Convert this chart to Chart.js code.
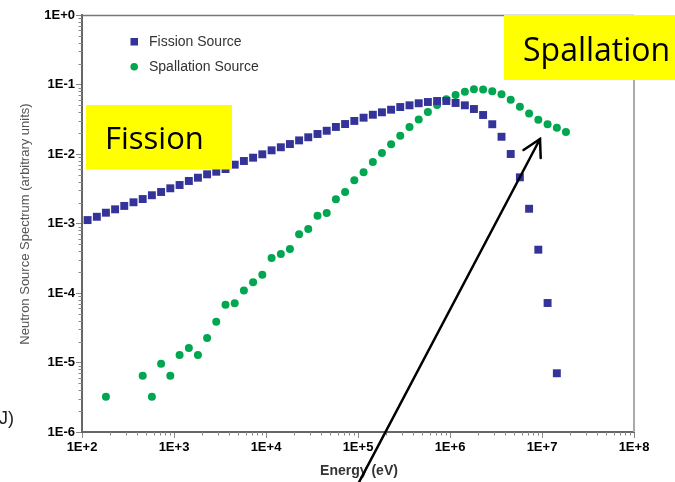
<!DOCTYPE html>
<html><head><meta charset="utf-8">
<script src="https://cdn.jsdelivr.net/npm/chart.js@4.4.1/dist/chart.umd.min.js"></script>
<style>html,body{margin:0;padding:0;background:#fff;overflow:hidden}#wrap{width:675px;height:482px;position:relative}</style>
</head><body><div id="wrap"><canvas id="c" width="675" height="482"></canvas></div>
<script>
// Energy grid (eV)
const energy = [115,145,182,229,288,363,457,575,724,912,
  1150,1450,1820,2290,2880,3630,4570,5750,7240,9120,
  11500,14500,18200,22900,28800,36300,45700,57500,72400,91200,
  115000,145000,182000,229000,288000,363000,457000,575000,724000,912000,
  1.15e6,1.45e6,1.82e6,2.29e6,2.88e6,3.63e6,4.57e6,5.75e6,7.24e6,9.12e6,
  1.15e7,1.45e7,1.82e7];
// Fission source spectrum
const fission = [1.12e-3,1.25e-3,1.43e-3,1.60e-3,1.79e-3,2.02e-3,2.25e-3,2.55e-3,2.84e-3,3.21e-3,
  3.58e-3,4.09e-3,4.56e-3,5.10e-3,5.56e-3,6.08e-3,7.02e-3,7.93e-3,8.85e-3,9.90e-3,
  1.13e-2,1.25e-2,1.39e-2,1.57e-2,1.74e-2,1.94e-2,2.16e-2,2.45e-2,2.70e-2,2.99e-2,
  3.33e-2,3.67e-2,3.98e-2,4.34e-2,4.74e-2,5.02e-2,5.37e-2,5.60e-2,5.79e-2,5.79e-2,
  5.42e-2,5.02e-2,4.44e-2,3.64e-2,2.68e-2,1.77e-2,1.00e-2,4.62e-3,1.63e-3,4.20e-4,
  7.18e-5,7.00e-6];
// Spallation source spectrum
const spallation = [null,null,3.22e-6,null,null,null,6.45e-6,3.22e-6,9.6e-6,6.45e-6,
  1.28e-5,1.62e-5,1.28e-5,2.25e-5,3.87e-5,6.79e-5,7.11e-5,1.09e-4,1.43e-4,1.83e-4,
  3.19e-4,3.63e-4,4.30e-4,7.02e-4,8.34e-4,1.29e-3,1.42e-3,2.23e-3,2.84e-3,4.20e-3,
  5.46e-3,7.67e-3,1.03e-2,1.38e-2,1.83e-2,2.45e-2,3.14e-2,4.02e-2,5.07e-2,6.12e-2,
  7.06e-2,7.88e-2,8.53e-2,8.45e-2,7.98e-2,7.25e-2,6.02e-2,4.80e-2,3.83e-2,3.10e-2,
  2.68e-2,2.39e-2,2.07e-2];
const xTicks = [1e2,1e3,1e4,1e5,1e6,1e7,1e8];
const yTicks = [1e-6,1e-5,1e-4,1e-3,1e-2,1e-1,1e0];
const seriesNames = ['Fission Source','Spallation Source'];
const xTitle = 'Energy (eV)';
const yTitle = 'Neutron Source Spectrum (arbitrary units)';

const BLUE = '#333399', GREEN = '#00A650';
function fmtE(v){const e=Math.round(Math.log10(v));return '1E'+(e>=0?'+':'-')+Math.abs(e);}
function pts(arr){const o=[];arr.forEach((y,i)=>{if(y!==null&&i<energy.length)o.push({x:energy[i],y:y});});return o;}

const decor = {
  id:'decor',
  beforeDatasetsDraw(chart){
    const ctx=chart.ctx, a=chart.chartArea, xs=chart.scales.x, ys=chart.scales.y;
    ctx.save();
    // frame top & right
    ctx.strokeStyle='#777'; ctx.lineWidth=1.5;
    ctx.beginPath(); ctx.moveTo(a.left,a.top+0.5); ctx.lineTo(a.right,a.top+0.5); ctx.stroke();
    ctx.strokeStyle='#aaa'; ctx.lineWidth=2;
    ctx.beginPath(); ctx.moveTo(a.right,a.top); ctx.lineTo(a.right,a.bottom); ctx.stroke();
    // minor ticks
    ctx.strokeStyle='#888'; ctx.lineWidth=1;
    for(let d=2; d<8; d++){ for(let m=2;m<10;m++){
      const px=Math.round(xs.getPixelForValue(m*Math.pow(10,d)))+0.5;
      ctx.beginPath(); ctx.moveTo(px,a.bottom); ctx.lineTo(px,a.bottom+3.5); ctx.stroke();
    }}
    for(let d=-6; d<0; d++){ for(let m=2;m<10;m++){
      const py=Math.round(ys.getPixelForValue(m*Math.pow(10,d)))+0.5;
      ctx.beginPath(); ctx.moveTo(a.left,py); ctx.lineTo(a.left-3.5,py); ctx.stroke();
    }}
    ctx.restore();
  },
  afterDraw(chart){
    const ctx=chart.ctx, a=chart.chartArea;
    ctx.save();
    // axis titles
    ctx.fillStyle='#555'; ctx.font='13px "Liberation Sans", Arial, sans-serif';
    ctx.textAlign='center'; ctx.textBaseline='middle';
    ctx.save(); ctx.translate(25,224); ctx.rotate(-Math.PI/2); ctx.fillText(yTitle,0,0); ctx.restore();
    ctx.fillStyle='#333'; ctx.font='bold 14px "Liberation Sans", Arial, sans-serif';
    ctx.fillText(xTitle,(a.left+a.right)/2+1,471);
    // legend
    ctx.textAlign='left'; ctx.font='14px "Liberation Sans", Arial, sans-serif'; ctx.fillStyle='#333';
    ctx.fillStyle=BLUE; ctx.fillRect(130.5,38,7.5,7.5);
    ctx.fillStyle=GREEN; ctx.beginPath(); ctx.arc(134.2,66.7,3.8,0,Math.PI*2); ctx.fill();
    ctx.fillStyle='#333';
    ctx.fillText(seriesNames[0],149,42);
    ctx.fillText(seriesNames[1],149,67);
    // yellow boxes
    ctx.fillStyle='#FFFF00';
    ctx.fillRect(86,105,146,64.5);
    ctx.fillRect(504,15,171,65);
    ctx.fillStyle='#000'; ctx.textBaseline='alphabetic';
    ctx.font='31px "Open Sans", "Noto Sans", sans-serif';
    ctx.fillText('Fission',105,149);
    ctx.font='32px "Open Sans", "Noto Sans", sans-serif';
    ctx.fillText('Spallation',523,61);
    // arrow
    ctx.strokeStyle='#000'; ctx.lineWidth=2.5; ctx.lineCap='round';
    ctx.beginPath(); ctx.moveTo(357,486); ctx.lineTo(540,139); ctx.stroke();
    ctx.beginPath(); ctx.moveTo(523.5,150); ctx.lineTo(540,139); ctx.lineTo(540.7,158); ctx.stroke();
    // cut-off text at left
    ctx.font='18px "Liberation Sans", Arial, sans-serif'; ctx.fillStyle='#222';
    ctx.fillText('J)',-1,424);
    ctx.restore();
  }
};

new Chart(document.getElementById('c'),{
  type:'scatter',
  data:{datasets:[
    {label:seriesNames[0],data:pts(fission),pointStyle:'rect',pointRadius:5.6,pointHoverRadius:5.6,
     backgroundColor:BLUE,borderColor:BLUE,borderWidth:0},
    {label:seriesNames[1],data:pts(spallation),pointStyle:'circle',pointRadius:4,pointHoverRadius:4,
     backgroundColor:GREEN,borderColor:GREEN,borderWidth:0}
  ]},
  options:{
    responsive:false, animation:false, devicePixelRatio:1,
    layout:{padding:{top:15,right:41,left:0,bottom:0}},
    plugins:{legend:{display:false},tooltip:{enabled:false}},
    scales:{
      x:{type:'logarithmic',min:1e2,max:1e8,
        afterBuildTicks:s=>{s.ticks=xTicks.map(v=>({value:v}));},
        afterFit:s=>{s.height=50;},
        ticks:{callback:v=>fmtE(v),autoSkip:false,maxRotation:0,padding:2,color:'#000',
          font:{family:'"Liberation Sans", Arial, sans-serif',weight:'bold',size:13}},
        grid:{display:true,drawOnChartArea:false,drawTicks:true,tickLength:6,color:'#888',lineWidth:1},
        border:{display:true,color:'#666',width:2}
      },
      y:{type:'logarithmic',min:1e-6,max:1,
        afterBuildTicks:s=>{s.ticks=yTicks.map(v=>({value:v}));},
        afterFit:s=>{s.width=82;},
        ticks:{callback:v=>fmtE(v),autoSkip:false,padding:1,color:'#000',
          font:{family:'"Liberation Sans", Arial, sans-serif',weight:'bold',size:13}},
        grid:{display:true,drawOnChartArea:false,drawTicks:true,tickLength:6,color:'#888',lineWidth:1},
        border:{display:true,color:'#666',width:2}
      }
    }
  },
  plugins:[decor]
});
</script></body></html>
